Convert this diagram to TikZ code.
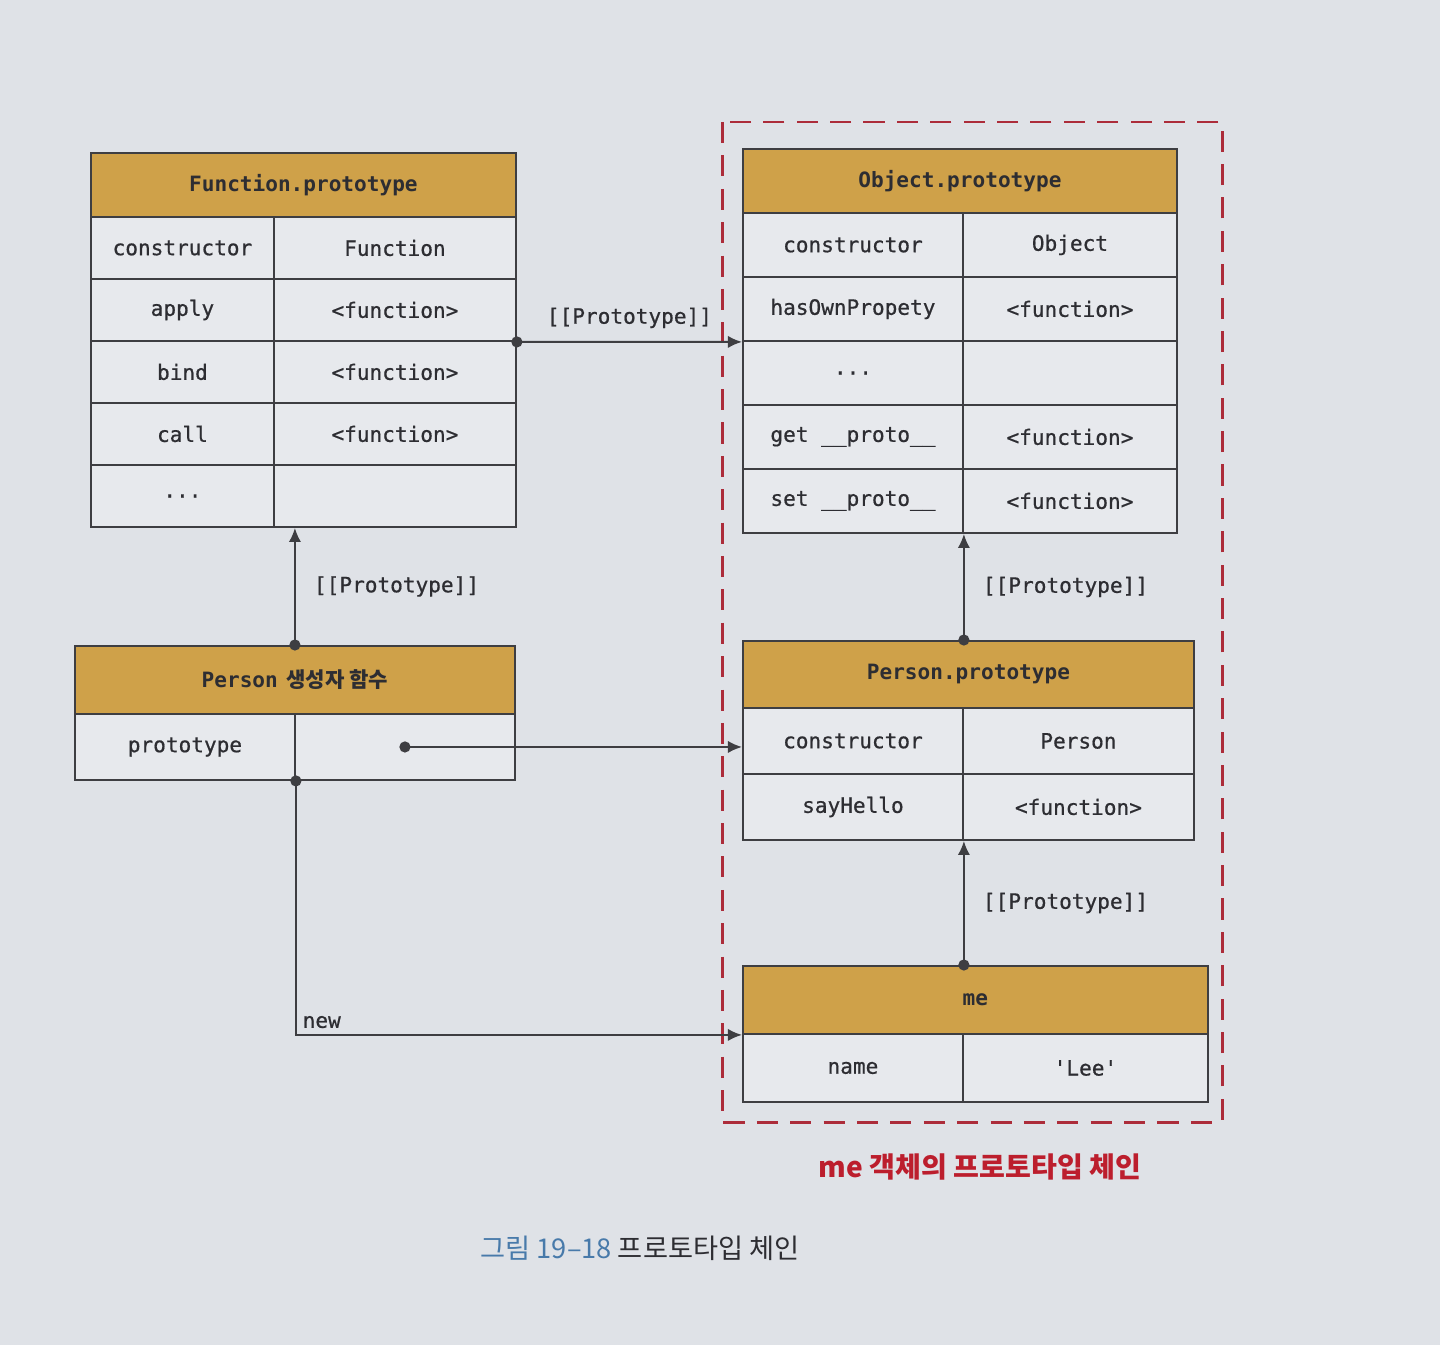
\documentclass[tikz,border=0pt]{standalone}
\usepackage{fontspec}
\setmonofont{DejaVu Sans Mono}
\newfontfamily\monomed{DejaVu Sans Mono}[UprightFeatures={FakeBold=0.7}]
\newfontfamily\krfont{Noto Sans CJK KR}
\usetikzlibrary{arrows.meta,positioning,calc}
\definecolor{pagebg}{RGB}{223,226,231}
\definecolor{cellgray}{RGB}{231,233,237}
\definecolor{hdrgold}{RGB}{207,161,73}
\definecolor{linegray}{RGB}{62,62,66}
\definecolor{textgray}{RGB}{45,45,50}
\definecolor{chainred}{RGB}{172,44,58}
\definecolor{capred}{RGB}{188,30,45}
\definecolor{capblue}{RGB}{72,122,170}
\newcommand{\moredots}{...}
\tikzset{
  hdr/.style={rectangle,draw=linegray,fill=hdrgold,anchor=north west,inner sep=0pt,
              line width=1.1pt,text=textgray,font=\ttfamily\bfseries\fontsize{12}{14}\selectfont},
  cell/.style={hdr,fill=cellgray,font=\monomed\fontsize{12}{14}\selectfont},
  link/.style={-{Latex[length=8pt,width=7pt]},draw=linegray,line width=1.1pt},
  lbl/.style={text=textgray,font=\monomed\fontsize{12}{14}\selectfont},
  chain/.style={draw=chainred,dashed,dash pattern=on 12pt off 7pt,line width=1.7pt},
}
\begin{document}
\begin{tikzpicture}[x=0.02cm,y=-0.02cm]
  \fill[pagebg] (0,0) rectangle (1440,1345);
  \useasboundingbox (0,0) rectangle (1440,1345);
  % prototype chain of me
  \draw[chain] (722,122) rectangle (1222,1122);
  % Function.prototype
  \node[hdr,minimum width=8.5cm,minimum height=1.28cm] (fph) at (90,152) {Function.prototype};
  \foreach \k/\v [count=\i from 0] in {constructor/Function,apply/<function>,bind/<function>,call/<function>,\moredots/{}}{
    \node[cell,minimum width=3.66cm,minimum height=1.24cm] (fpk\i) at (90,{216+62*\i}) {\k};
    \node[cell,minimum width=4.84cm,minimum height=1.24cm] (fpv\i) at (273,{216+62*\i}) {\v};
  }
  % Object.prototype
  \node[hdr,minimum width=8.68cm,minimum height=1.28cm] (oph) at (742,148) {Object.prototype};
  \foreach \k/\v [count=\i from 0] in {constructor/Object,hasOwnPropety/<function>,\moredots/{},get \_\_proto\_\_/<function>,set \_\_proto\_\_/<function>}{
    \node[cell,minimum width=4.4cm,minimum height=1.28cm] (opk\i) at (742,{212+64*\i}) {\k};
    \node[cell,minimum width=4.28cm,minimum height=1.28cm] (opv\i) at (962,{212+64*\i}) {\v};
  }
  % Person constructor
  \node[hdr,minimum width=8.8cm,minimum height=1.36cm] (ph) at (74,645) {Person\hspace{0.4em}{\krfont\bfseries 생성자 함수}};
  \node[cell,minimum width=4.4cm,minimum height=1.32cm] (pk0) at (74,713) {prototype};
  \node[cell,minimum width=4.4cm,minimum height=1.32cm] (pv0) at (294,713) {};
  % Person.prototype
  \node[hdr,minimum width=9.02cm,minimum height=1.34cm] (pph) at (742,640) {Person.prototype};
  \foreach \k/\v [count=\i from 0] in {constructor/Person,sayHello/<function>}{
    \node[cell,minimum width=4.4cm,minimum height=1.32cm] (ppk\i) at (742,{707+66*\i}) {\k};
    \node[cell,minimum width=4.62cm,minimum height=1.32cm] (ppv\i) at (962,{707+66*\i}) {\v};
  }
  % me
  \node[hdr,minimum width=9.3cm,minimum height=1.36cm] (mh) at (742,965) {me};
  \node[cell,minimum width=4.4cm,minimum height=1.36cm] (mk0) at (742,1033) {name};
  \node[cell,minimum width=4.9cm,minimum height=1.36cm] (mv0) at (962,1033) {'Lee'};
  % links
  \draw[link] (fpv1.south east) -- node[lbl,above=4pt]{[[Prototype]]} (opk1.south west);
  \draw[link] (ph.north) -- node[lbl,right=7pt]{[[Prototype]]} (ph.north |- fpk4.south);
  \draw[link] (pv0.center) -- (pv0.center -| ppk0.west);
  \draw[link] (pk0.south east) |- node[lbl,pos=0.5,above right]{new} (mh.south west);
  \draw[link] (pph.north -| ppk0.east) -- node[lbl,right=7pt]{[[Prototype]]} (opk4.south east);
  \draw[link] (mh.north -| mk0.east) -- node[lbl,right=7pt]{[[Prototype]]} (ppk1.south east);
  \foreach \d in {fpv1.south east,ph.north,pv0.center,pk0.south east}
    \fill[linegray] (\d) circle (3.2pt);
  \fill[linegray] (pph.north -| ppk0.east) circle (3.2pt);
  \fill[linegray] (mh.north -| mk0.east) circle (3.2pt);
  % captions
  \node[text=capred,font=\krfont\bfseries\fontsize{16}{19}\selectfont] (chaincap) at (980,1167) {me 객체의 프로토타입 체인};
  \node[text=textgray,font=\krfont\fontsize{15.5}{18}\selectfont] (figcap) at (640,1248) {{\color{capblue}그림 19–18} 프로토타입 체인};
\end{tikzpicture}
\end{document}
